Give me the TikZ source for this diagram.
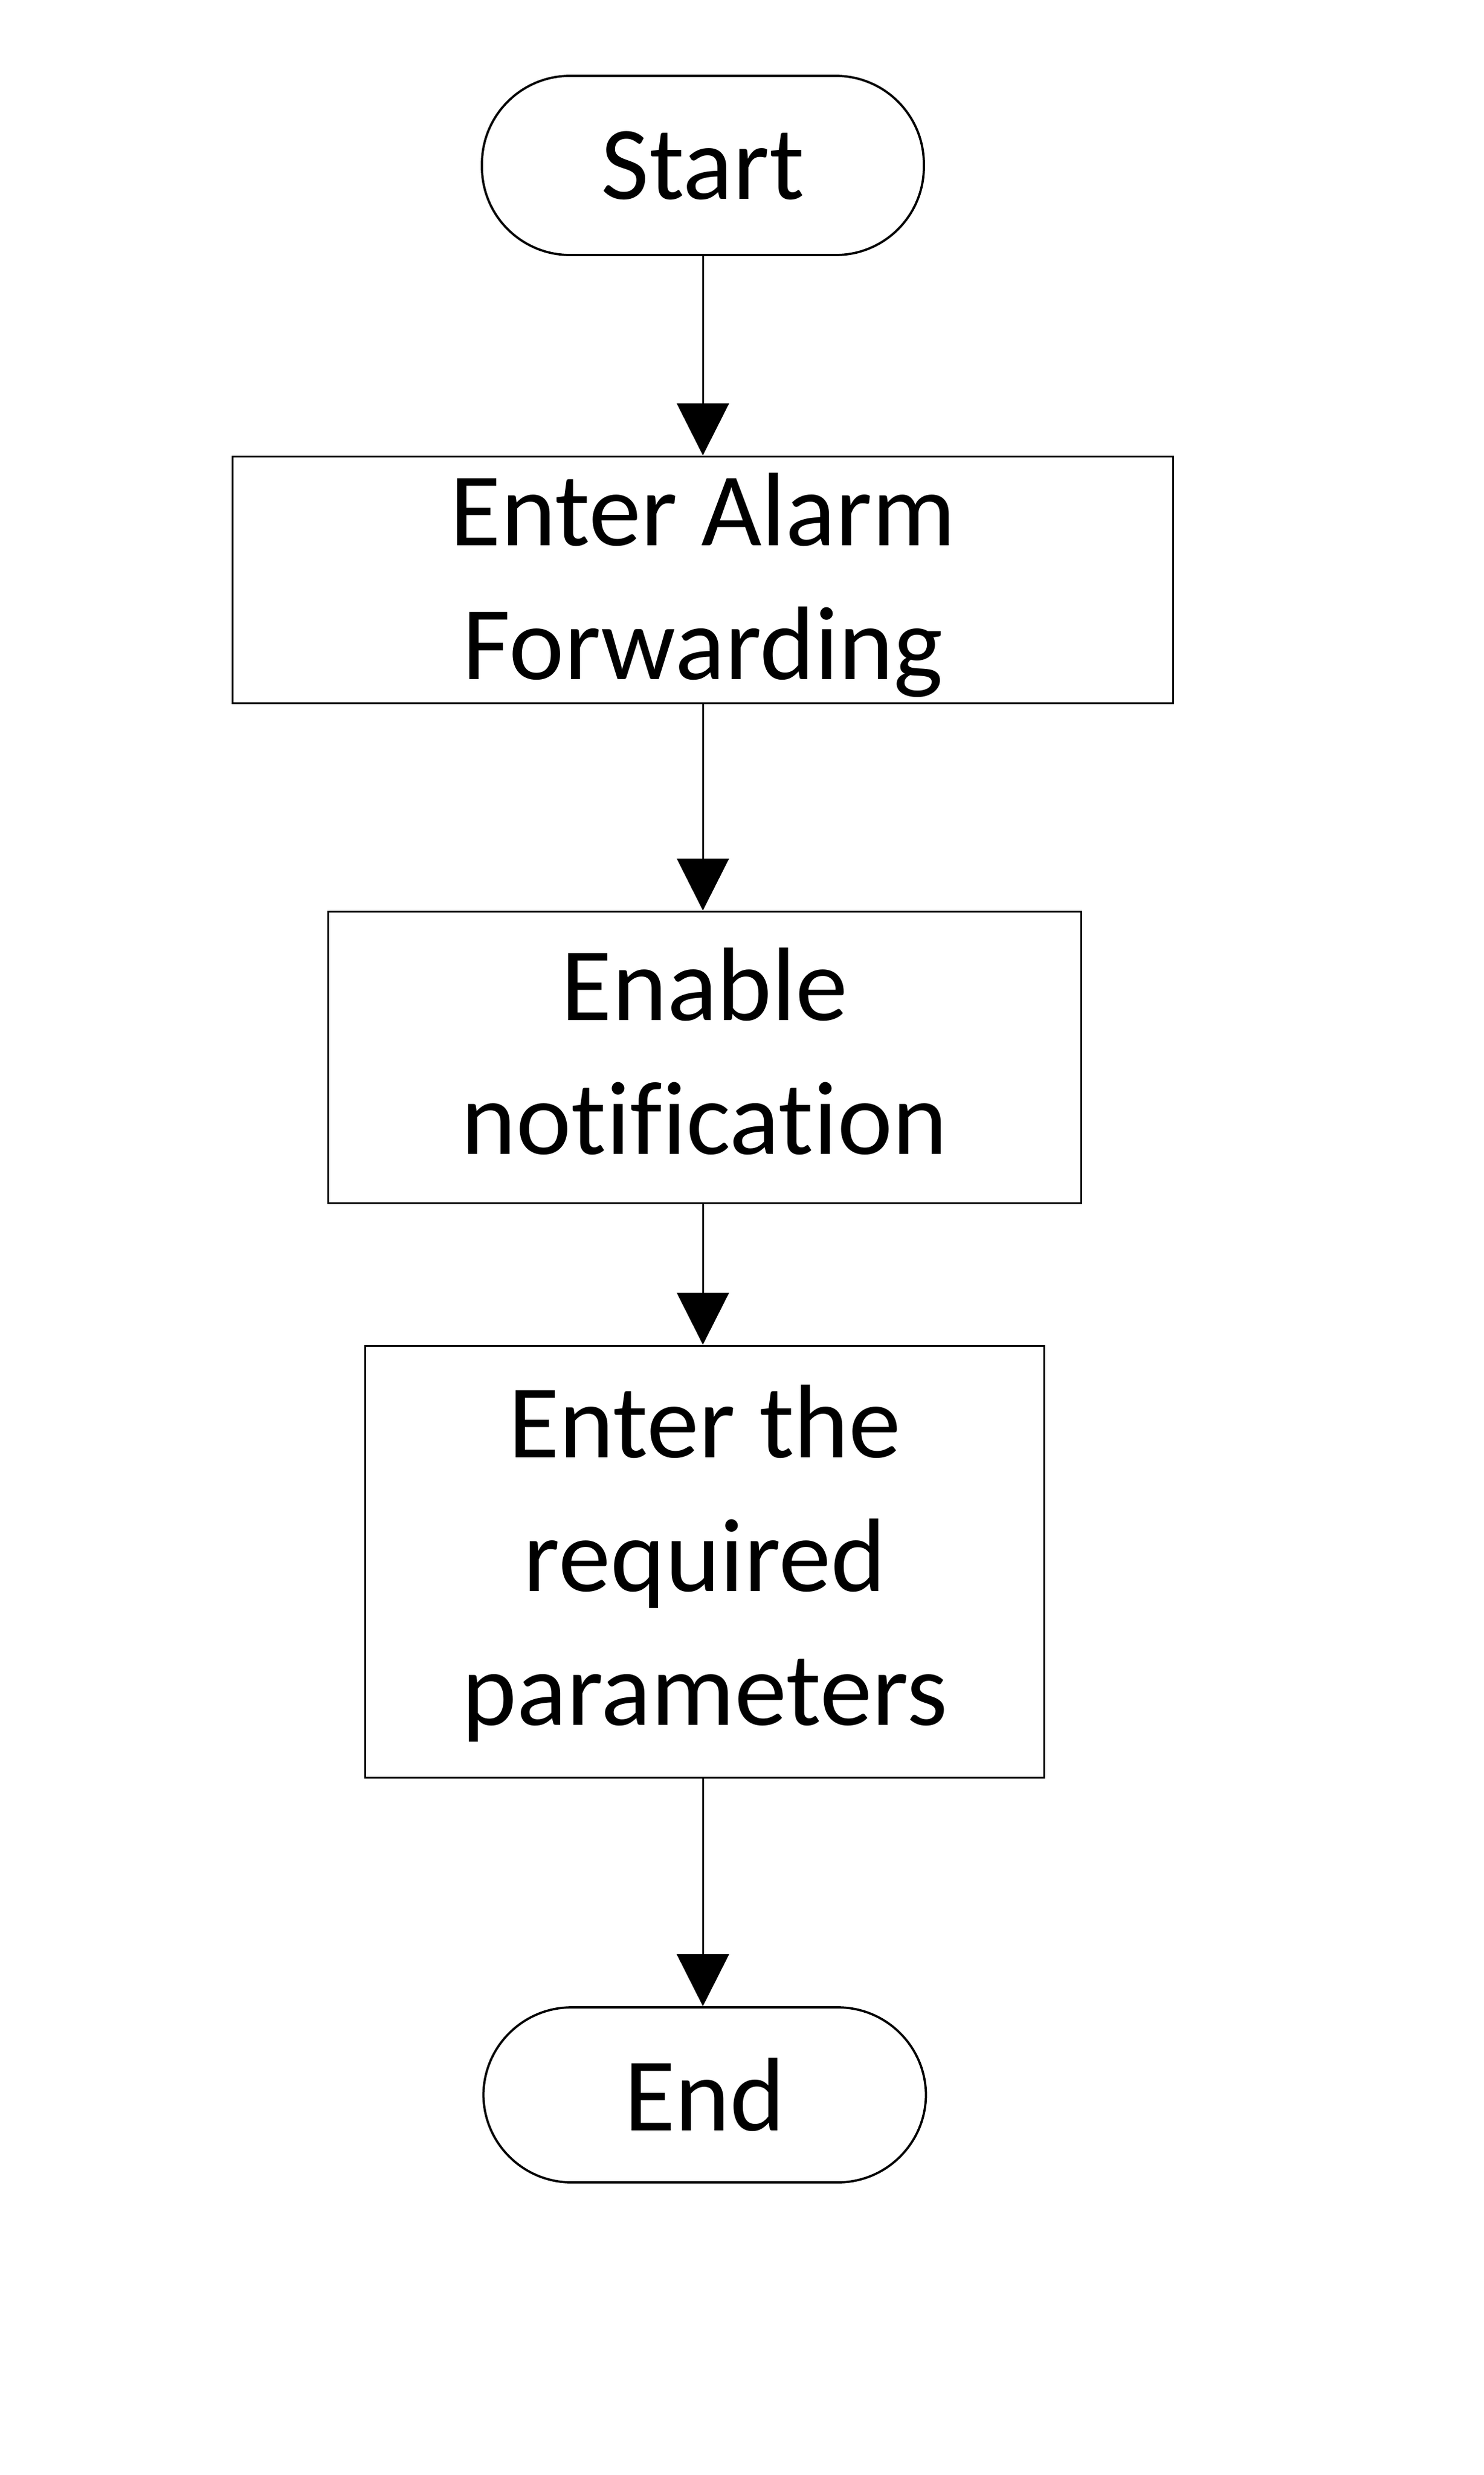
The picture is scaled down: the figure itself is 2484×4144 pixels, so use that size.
\documentclass[tikz,border=0pt]{standalone}
\usepackage{fontspec}
\setmainfont{Carlito}[Ligatures=NoCommon]
\usetikzlibrary{arrows.meta}
\newcommand\topstrut[1]{\rule{0pt}{#1}}
\newcommand\botstrut{\rule[-10pt]{0pt}{10pt}}
\begin{document}
\begin{tikzpicture}[x=0.2pt,y=-0.2pt,
  every node/.style={font=\fontsize{35}{44.8}\selectfont, inner sep=0pt, align=center},
  term/.style={draw, line width=0.75pt, rounded corners=29.5pt},
  procbox/.style={draw, line width=0.6pt},
  arr/.style={line width=0.6pt, -{Triangle[width=17.4pt,length=17.4pt]}}]
\useasboundingbox (0,0) rectangle (2484,4144);
\node[term, minimum width=148pt, minimum height=60pt] (start) at (1177,277) {Start};
\node[procbox, minimum width=314.8pt, minimum height=82.6pt] (b1) at (1177,970.5) {};
\node (b1text) at (b1.center) {\topstrut{31.8pt}Enter Alarm\\Forwarding\botstrut};
\node[procbox, minimum width=252.2pt, minimum height=97.6pt] (b2) at (1180,1770) {};
\node (b2text) at (b2.center) {\topstrut{30pt}Enable\\notification\botstrut};
\node[procbox, minimum width=227.4pt, minimum height=144.6pt] (b3) at (1180,2614.5) {};
\node (b3text) at (b3.center) {\topstrut{29.8pt}Enter the\\required\\parameters\botstrut};
\node[term, minimum width=148.2pt, minimum height=58.6pt] (end) at (1180,3507.5) {End};
\draw[arr] (start.south) -- (start.south |- b1.north);
\draw[arr] (b1.south) -- (b1.south |- b2.north);
\draw[arr] (b1.south |- b2.south) -- (b1.south |- b3.north);
\draw[arr] (b1.south |- b3.south) -- (b1.south |- end.north);
\end{tikzpicture}
\end{document}
